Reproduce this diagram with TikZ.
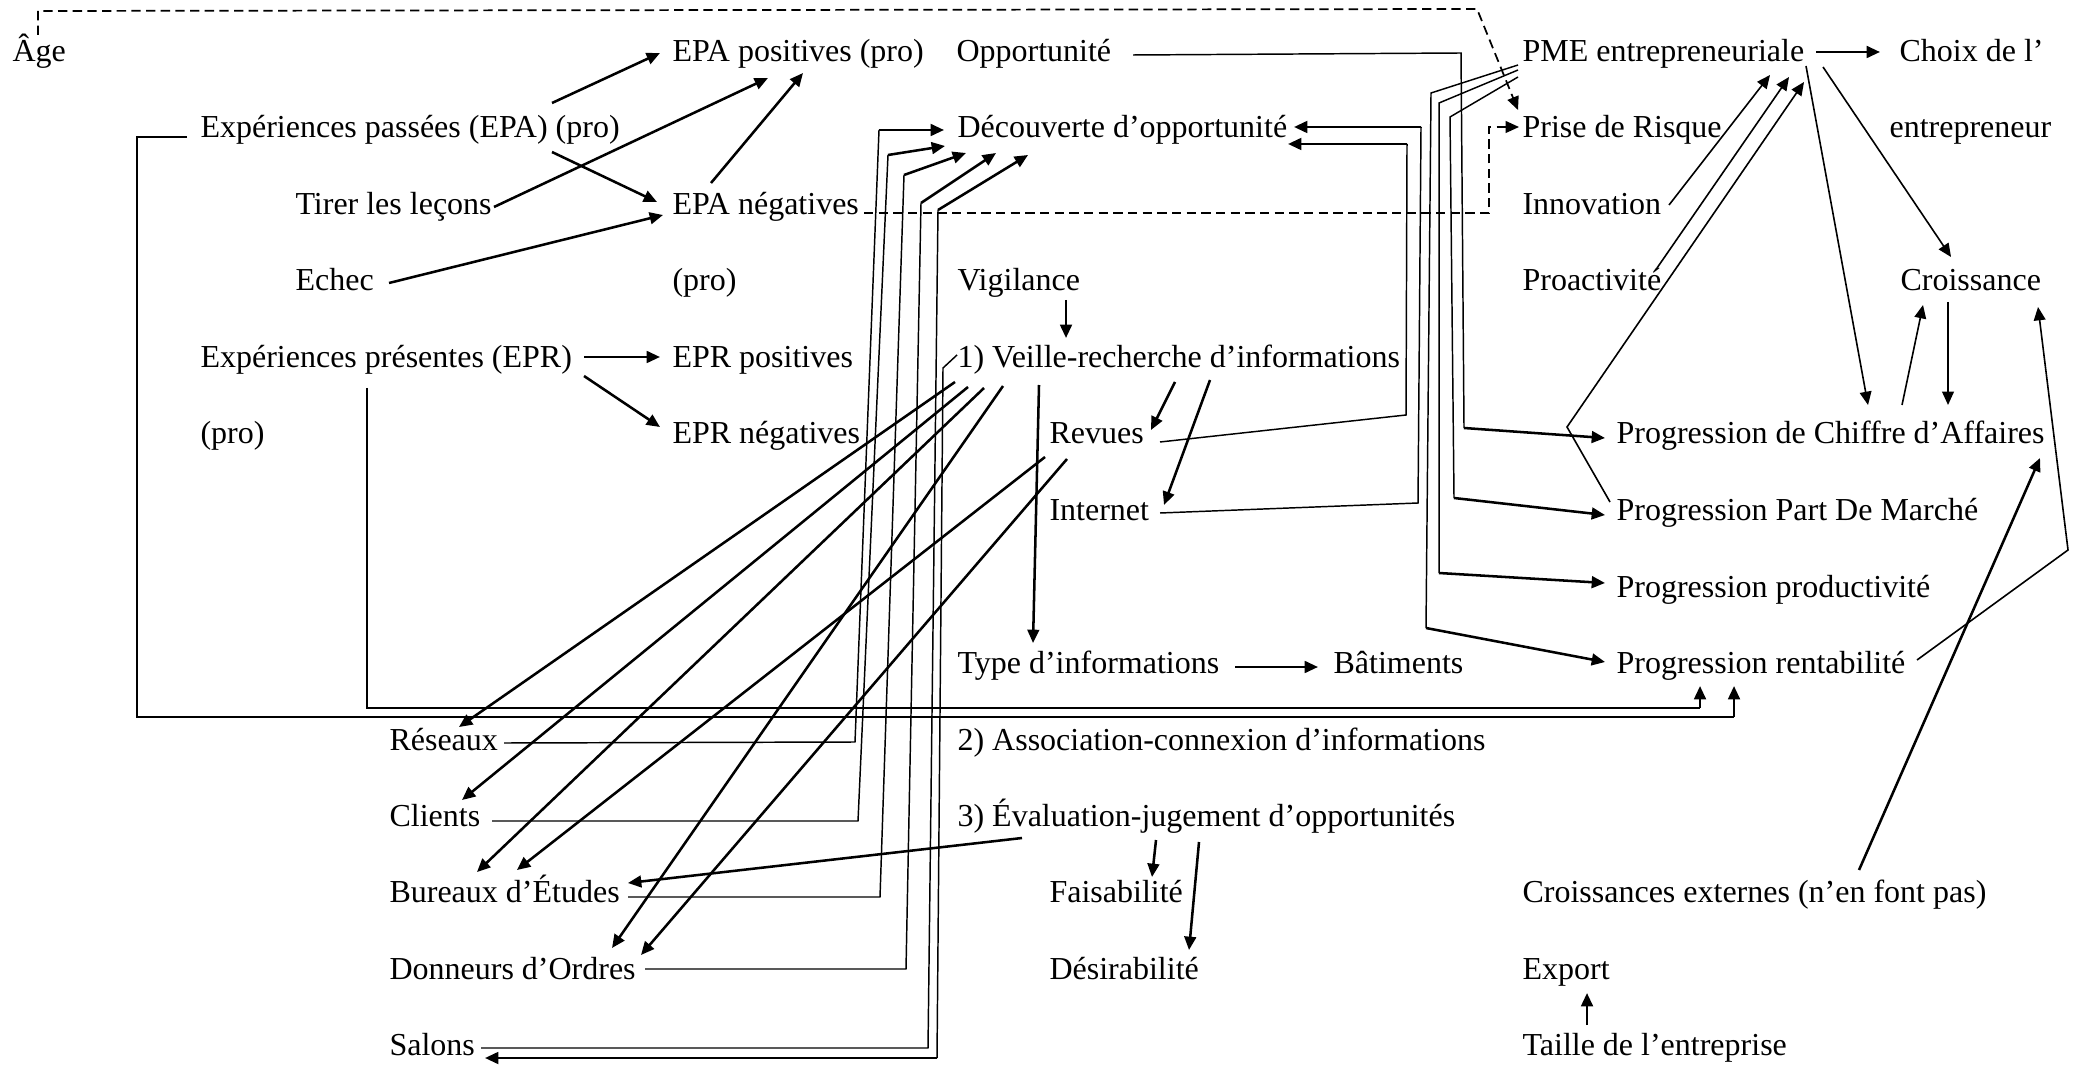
\documentclass[tikz,border=0pt]{standalone}
\usepackage{fontspec}
\setmainfont{Liberation Serif}
\usetikzlibrary{arrows.meta}
\begin{document}
\begin{tikzpicture}[x=0.375pt,y=-0.375pt,
  txt/.style={anchor=base west, inner sep=0pt, font=\fontsize{12}{14}\selectfont},
  ln/.style={line width=0.55pt},
  arr/.style={line width=0.95pt, -{Triangle[length=5pt,width=4.4pt]}},
  tarr/.style={line width=0.6pt, -{Triangle[length=5pt,width=4.4pt]}},
  dsh/.style={line width=0.65pt, dash pattern=on 3.5pt off 2pt, -{Triangle[length=5pt,width=4.4pt]}}]
\useasboundingbox (0,0) rectangle (2082,1065);
% ---- nodes ----
\node[txt] (age) at (12,62) {Âge};
\node[txt] (epapos) at (672,62) {EPA positives (pro)};
\node[txt] (opp) at (956,62) {Opportunité};
\node[txt] (pme) at (1522,62) {PME entrepreneuriale};
\node[txt] (choix) at (1899,62) {Choix de l’};
\node[txt] (epa) at (200,138) {Expériences passées (EPA) (pro)};
\node[txt] (dec) at (957,138) {Découverte d’opportunité};
\node[txt] (risque) at (1522,138) {Prise de Risque};
\node[txt] (entr) at (1889,138) {entrepreneur};
\node[txt] (tirer) at (295,215) {Tirer les leçons};
\node[txt] (epaneg) at (672,215) {EPA négatives};
\node[txt] (innov) at (1522,215) {Innovation};
\node[txt] (echec) at (295,291) {Echec};
\node[txt] (proa) at (672,291) {(pro)};
\node[txt] (vigil) at (957,291) {Vigilance};
\node[txt] (proact) at (1522,291) {Proactivité};
\node[txt] (crois) at (1900,291) {Croissance};
\node[txt] (epr) at (200,368) {Expériences présentes (EPR)};
\node[txt] (eprpos) at (672,368) {EPR positives};
\node[txt] (veille) at (957,368) {1) Veille-recherche d’informations};
\node[txt] (prob) at (200,444) {(pro)};
\node[txt] (eprneg) at (672,444) {EPR négatives};
\node[txt] (revues) at (1049,444) {Revues};
\node[txt] (pca) at (1616,444) {Progression de Chiffre d’Affaires};
\node[txt] (internet) at (1049,520) {Internet};
\node[txt] (ppdm) at (1616,520) {Progression Part De Marché};
\node[txt] (pprod) at (1616,597) {Progression productivité};
\node[txt] (type) at (957,673) {Type d’informations};
\node[txt] (bat) at (1333,673) {Bâtiments};
\node[txt] (prent) at (1616,673) {Progression rentabilité};
\node[txt] (reseaux) at (389,750) {Réseaux};
\node[txt] (assoc) at (957,750) {2) Association-connexion d’informations};
\node[txt] (clients) at (389,826) {Clients};
\node[txt] (eval) at (957,826) {3) Évaluation-jugement d’opportunités};
\node[txt] (bureaux) at (389,902) {Bureaux d’Études};
\node[txt] (faisa) at (1049,902) {Faisabilité};
\node[txt] (cext) at (1522,902) {Croissances externes (n’en font pas)};
\node[txt] (donneurs) at (389,979) {Donneurs d’Ordres};
\node[txt] (desir) at (1049,979) {Désirabilité};
\node[txt] (export) at (1522,979) {Export};
\node[txt] (salons) at (389,1055) {Salons};
\node[txt] (taille) at (1522,1055) {Taille de l’entreprise};
% ---- dashed ----
\draw[dsh] ([shift={(26,-27)}]age.base west) -- (38,11) -- (1477,9) -- ([shift={(-4,-28)}]risque.base west);
\draw[dsh] ([shift={(192,-2)}]epaneg.base west) -- (1489,213) -- (1489,127) -- ([shift={(-3,-11)}]risque.base west);
% ---- left arrows ----
\draw[arr] ([shift={(352,-35)}]epa.base west) -- ([shift={(-12,-9)}]epapos.base west);
\draw[arr] ([shift={(352,14)}]epa.base west) -- ([shift={(-15,-13)}]epaneg.base west);
\draw[arr] ([shift={(199,-8)}]tirer.base west) -- ([shift={(96,16)}]epapos.base west);
\draw[arr] ([shift={(39,-32)}]epaneg.base west) -- ([shift={(131,11)}]epapos.base west);
\draw[arr] ([shift={(94,-8)}]echec.base west) -- ([shift={(-9,0)}]epaneg.base west);
\draw[arr] ([shift={(384,-11)}]epr.base west) -- ([shift={(-12,-11)}]eprpos.base west);
\draw[arr] ([shift={(384,8)}]epr.base west) -- ([shift={(-12,-17)}]eprneg.base west);
% ---- long brackets to rentabilite ----
\draw[ln] ([shift={(-13,-1)}]epa.base west) -- (137,137) -- (137,717) -- (1734,717);
\draw[arr] (1734,717) -- ([shift={(118,13)}]prent.base west);
\draw[ln] ([shift={(167,20)}]epr.base west) -- (367,708) -- (1700,708);
\draw[arr] (1700,708) -- ([shift={(84,13)}]prent.base west);
% ---- bundle to Decouverte ----
\draw[ln] ([shift={(115,-7)}]reseaux.base west) -- (855,742) -- (879,130);
\draw[arr] (879,130) -- ([shift={(-13,-8)}]dec.base west);
\draw[ln] ([shift={(103,-5)}]clients.base west) -- (858,821) -- (888,155);
\draw[arr] (888,155) -- ([shift={(-12,8)}]dec.base west);
\draw[ln] ([shift={(239,-5)}]bureaux.base west) -- (880,897) -- (904,175);
\draw[arr] (904,175) -- ([shift={(9,15)}]dec.base west);
\draw[ln] ([shift={(256,-10)}]donneurs.base west) -- (906,969) -- (921,203);
\draw[arr] (921,203) -- ([shift={(39,15)}]dec.base west);
\draw[ln] ([shift={(92,-7)}]salons.base west) -- (928,1048) -- (938,210);
\draw[arr] (938,210) -- ([shift={(71,17)}]dec.base west);
\draw[ln] ([shift={(0,-13)}]veille.base west) -- (943,368) -- (937,1058);
\draw[arr] (937,1058) -- ([shift={(96,3)}]salons.base west);
% ---- Veille / Revues to sources ----
\draw[arr] ([shift={(-2,14)}]veille.base west) -- ([shift={(70,-23)}]reseaux.base west);
\draw[arr] ([shift={(11,19)}]veille.base west) -- ([shift={(73,-26)}]clients.base west);
\draw[arr] ([shift={(27,20)}]veille.base west) -- ([shift={(88,-30)}]bureaux.base west);
\draw[arr] ([shift={(46,18)}]veille.base west) -- ([shift={(223,-31)}]donneurs.base west);
\draw[arr] ([shift={(-4,13)}]revues.base west) -- ([shift={(128,-32)}]bureaux.base west);
\draw[arr] ([shift={(18,15)}]revues.base west) -- ([shift={(252,-24)}]donneurs.base west);
% ---- middle column ----
\draw[arr] ([shift={(109,9)}]vigil.base west) -- ([shift={(109,-30)}]veille.base west);
\draw[arr] ([shift={(218,14)}]veille.base west) -- ([shift={(102,-14)}]revues.base west);
\draw[arr] ([shift={(253,12)}]veille.base west) -- ([shift={(115,-15)}]internet.base west);
\draw[arr] ([shift={(82,17)}]veille.base west) -- ([shift={(76,-30)}]type.base west);
\draw[arr] ([shift={(278,-6)}]type.base west) -- ([shift={(-15,-6)}]bat.base west);
\draw[ln] ([shift={(111,-2)}]revues.base west) -- (1406,415) -- (1407,144);
\draw[arr] (1407,144) -- ([shift={(331,6)}]dec.base west);
\draw[ln] ([shift={(111,-7)}]internet.base west) -- (1418,503) -- (1421,127);
\draw[arr] (1421,127) -- ([shift={(337,-11)}]dec.base west);
\draw[arr] ([shift={(199,14)}]eval.base west) -- ([shift={(103,-25)}]faisa.base west);
\draw[arr] ([shift={(242,16)}]eval.base west) -- ([shift={(140,-29)}]desir.base west);
\draw[arr] ([shift={(65,12)}]eval.base west) -- ([shift={(239,-19)}]bureaux.base west);
% ---- to progressions ----
\draw[ln] ([shift={(177,-7)}]opp.base west) -- (1461,53) -- (1464,428);
\draw[arr] (1464,428) -- ([shift={(-11,-6)}]pca.base west);
\draw[ln] ([shift={(-4,3)}]pme.base west) -- (1431,93) -- (1426,628);
\draw[arr] (1426,628) -- ([shift={(-11,-11)}]prent.base west);
\draw[ln] ([shift={(-4,8)}]pme.base west) -- (1439,103) -- (1439,573);
\draw[arr] (1439,573) -- ([shift={(-11,-14)}]pprod.base west);
\draw[ln] ([shift={(-4,15)}]pme.base west) -- (1450,117) -- (1454,498);
\draw[arr] (1454,498) -- ([shift={(-11,-5)}]ppdm.base west);
% ---- right side ----
\draw[arr] ([shift={(294,-10)}]pme.base west) -- ([shift={(-19,-10)}]choix.base west);
\draw[tarr] ([shift={(147,-10)}]innov.base west) -- ([shift={(248,13)}]pme.base west);
\draw[tarr] ([shift={(135,-23)}]proact.base west) -- ([shift={(267,15)}]pme.base west);
\draw[tarr] ([shift={(-6,-18)}]ppdm.base west) -- (1567,427) -- ([shift={(282,20)}]pme.base west);
\draw[tarr] ([shift={(284,4)}]pme.base west) -- ([shift={(252,-39)}]pca.base west);
\draw[tarr] ([shift={(301,5)}]pme.base west) -- ([shift={(51,-34)}]crois.base west);
\draw[tarr] ([shift={(286,-39)}]pca.base west) -- ([shift={(23,14)}]crois.base west);
\draw[tarr] ([shift={(48,11)}]crois.base west) -- ([shift={(332,-39)}]pca.base west);
\draw[tarr] ([shift={(301,-13)}]prent.base west) -- (2068,550) -- ([shift={(138,16)}]crois.base west);
\draw[arr] ([shift={(337,-32)}]cext.base west) -- ([shift={(424,14)}]pca.base west);
\draw[arr] ([shift={(65,-30)}]taille.base west) -- ([shift={(65,14)}]export.base west);
\end{tikzpicture}
\end{document}
